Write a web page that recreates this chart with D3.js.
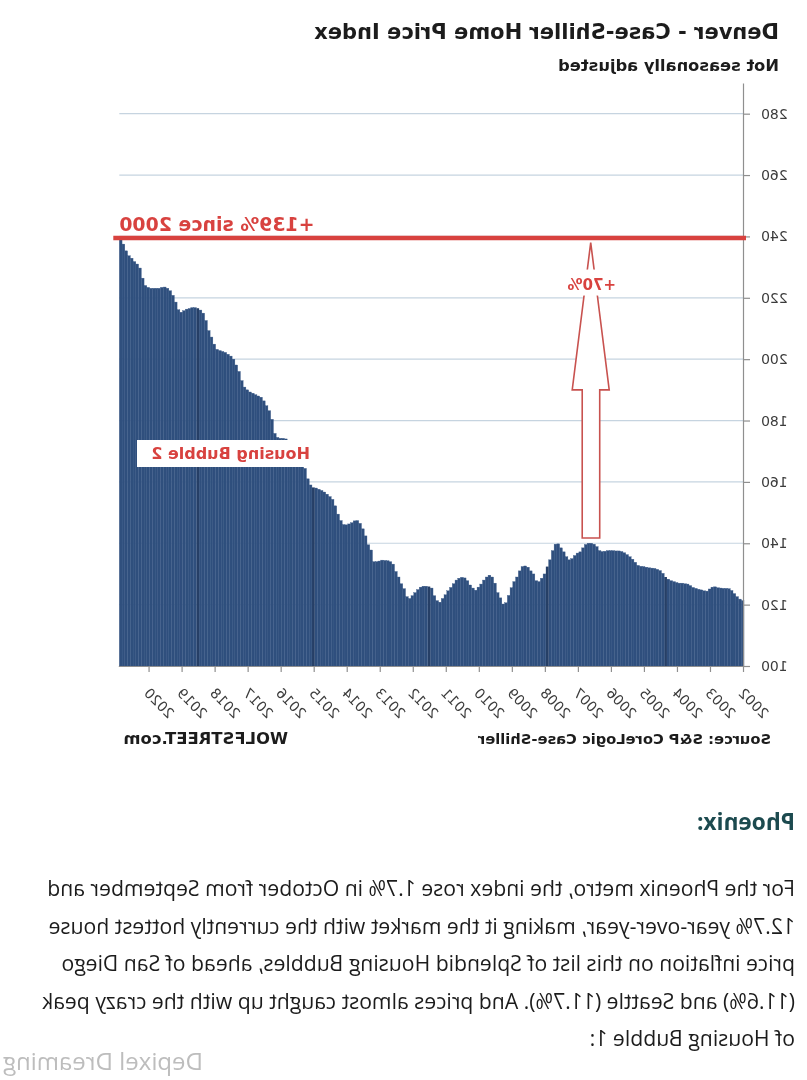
<!DOCTYPE html>
<html>
<head>
<meta charset="utf-8">
<script src="https://cdn.jsdelivr.net/npm/d3@7"></script>
<style>
  body { margin: 0; background: #fff; }
  svg { display: block; filter: blur(0.4px); }
  text { font-family: "DejaVu Sans", sans-serif; }
  .prose { font-family: "Open Sans", sans-serif; }
</style>
</head>
<body>
<svg width="807" height="1080"></svg>
<script>
// monthly index values, one list per stretch, starting Jan 2002
const values2002to2005 = [121.3,121.8,122.6,123.6,124.6,125.2,125.3,125.3,125.4,125.5,125.8,125.7,
  125.1,124.4,124.5,124.8,125.0,125.3,125.6,126.2,126.7,126.8,127.0,127.0,
  127.2,127.5,127.8,128.3,129.0,130.2,131.1,131.5,131.8,131.9,132.0,132.2,
  132.4,132.5,132.8,133.8,134.8,135.6,136.3,136.9,137.3,137.5,137.5,137.6];
const values2006to2009 = [137.6,137.6,137.4,137.3,137.6,138.9,139.7,140.0,140.0,139.6,138.5,137.2,
  136.8,136.0,135.0,134.6,135.6,137.2,138.5,139.8,139.7,137.6,134.6,132.4,
  130.0,128.6,127.5,127.8,130.0,131.0,132.2,132.6,132.4,131.0,129.0,127.5,
  125.5,123.0,120.6,120.2,122.2,123.9,127.0,129.0,129.6,129.0,128.0,126.7];
const values2010to2013 = [125.7,124.7,125.4,126.4,127.8,128.7,128.9,128.6,128.0,126.8,125.6,124.5,
  123.2,122.0,120.8,121.3,122.9,125.4,125.9,126.0,126.0,125.7,124.9,123.9,
  122.9,122.0,122.6,125.2,126.8,129.0,130.8,133.2,134.0,134.3,134.4,134.5,
  134.2,134.0,134.0,137.8,139.5,142.4,144.7,146.5,147.4,147.3,146.7,146.3];
const values2014to2017 = [146.0,146.1,147.4,149.5,152.2,154.3,155.2,156.0,156.7,157.2,157.6,158.0,
  158.2,159.0,161.0,164.4,166.0,167.5,169.0,170.5,172.0,173.5,174.0,174.2,
  174.2,174.5,175.8,180.4,183.2,184.8,186.4,187.6,188.0,188.4,188.9,189.3,
  190.0,190.9,193.0,196.0,198.1,200.0,201.0,201.6,202.2,202.5,202.8,203.2];
const values2018to2020 = [204.9,207.2,209.3,212.6,215.0,216.0,216.6,216.8,216.8,216.5,216.3,215.8,
  215.3,216.1,218.6,220.8,222.3,223.1,223.5,223.4,223.1,223.1,223.1,223.1,
  223.4,224.0,226.4,229.7,231.0,231.8,232.9,233.7,235.3,237.5,239.6];

const values = [...values2002to2005, ...values2006to2009, ...values2010to2013, ...values2014to2017, ...values2018to2020];
const months = d3.range(values.length);
const seamMonths = [28, 71, 114, 156, 198]; // the darker vertical bands in the bars
const yearTicks = d3.range(2002, 2021);
const indexTicks = d3.range(100, 281, 20);

const peakValue = 240;
const arrowMonth = 55.7;
const arrowTip = 238, arrowShoulder = 190, arrowFoot = 141.7;

const bodyLines = [
  "For the Phoenix metro, the index rose 1.7% in October from September and",
  "12.7% year-over-year, making it the market with the currently hottest house",
  "price inflation on this list of Splendid Housing Bubbles, ahead of San Diego",
  "(11.6%) and Seattle (11.7%). And prices almost caught up with the crazy peak",
  "of Housing Bubble 1:"
];

const left = 63, right = 687.7, top_ = 83, bottom = 666;
const red = "#d8423f", grey = "#8f8f8f", ink = "#1c1c1c";

const x = d3.scaleBand().domain(months).range([left, right]);
const xYear = d3.scaleLinear().domain([2002, 2002 + months.length / 12]).range([left, right]);
const y = d3.scaleLinear().domain([100, 290]).range([bottom, top_]);

// the reference is a mirror image, so everything is drawn normally and flipped as one
const svg = d3.select("svg");
const g = svg.append("g").attr("transform", "translate(807,0) scale(-1,1)");

g.append("g")
  .selectAll("line")
  .data(indexTicks)
  .join("line")
    .attr("x1", left).attr("x2", right)
    .attr("y1", d => y(d)).attr("y2", d => y(d))
    .attr("stroke", "#c6d4e0")
    .attr("stroke-width", 1.2);

g.append("g")
  .selectAll("rect")
  .data(months)
  .join("rect")
    .attr("x", d => x(d))
    .attr("y", d => y(values[d]))
    .attr("width", x.bandwidth())
    .attr("height", d => y(100) - y(values[d]))
    .attr("fill", d => seamMonths.includes(d) ? "#263f66" : "#2f4f7d")
    .attr("stroke", d => seamMonths.includes(d) ? "none" : "#3a5a88")
    .attr("stroke-width", 0.35);

const yAxis = g.append("g")
    .attr("transform", `translate(${left},0)`)
    .call(d3.axisLeft(y).tickValues(indexTicks).tickSize(6).tickPadding(11).tickSizeOuter(0));
const xAxis = g.append("g")
    .attr("transform", `translate(0,${bottom})`)
    .call(d3.axisBottom(xYear).tickValues(yearTicks).tickFormat(d3.format("d")).tickSize(6).tickSizeOuter(0));
xAxis.selectAll("text")
    .attr("y", 0)
    .attr("dy", 0)
    .attr("text-anchor", "end")
    .attr("transform", "translate(6,28) rotate(-45)");
[yAxis, xAxis].forEach(a => {
  a.selectAll("path, line").attr("stroke", grey).attr("stroke-width", 1.2);
  a.selectAll("text").attr("fill", "#3c3c3c").style("font-size", "14px");
});

// arrow from the Housing Bubble 1 peak up to the current level
const ax = x(0) + x.bandwidth() * arrowMonth;
const arrowPath = d3.line()([
  [ax, y(arrowTip)], [ax + 18.5, y(arrowShoulder)], [ax + 8.5, y(arrowShoulder)],
  [ax + 8.5, y(arrowFoot)], [ax - 9, y(arrowFoot)], [ax - 9, y(arrowShoulder)],
  [ax - 18.5, y(arrowShoulder)]
]) + "Z";
g.append("path").attr("d", arrowPath).attr("fill", "#fff").attr("stroke", "#c8524f").attr("stroke-width", 1.6);

g.append("rect")
    .attr("x", ax - 32).attr("y", y(arrowTip) + 27).attr("width", 62).attr("height", 26)
    .attr("fill", "#fff");
g.append("text").text("+70%")
    .attr("x", ax - 1).attr("y", y(arrowTip) + 47)
    .attr("text-anchor", "middle")
    .attr("fill", red).attr("font-weight", "bold").attr("font-size", 15);

g.append("line")
    .attr("x1", left - 2).attr("x2", right + 6)
    .attr("y1", y(peakValue) + 1.5).attr("y2", y(peakValue) + 1.5)
    .attr("stroke", red).attr("stroke-width", 4.5);
g.append("text").text("+139% since 2000")
    .attr("x", right).attr("y", 231)
    .attr("text-anchor", "end")
    .attr("fill", red).attr("font-weight", "bold").attr("font-size", 18.9);

g.append("rect")
    .attr("x", 495).attr("y", 440).attr("width", 175).attr("height", 27)
    .attr("fill", "#fff");
g.append("text").text("Housing Bubble 2")
    .attr("x", 497).attr("y", 459)
    .attr("fill", red).attr("font-weight", "bold").attr("font-size", 16);

// titles and footers
g.append("text").text("Denver - Case-Shiller Home Price Index")
    .attr("x", 28).attr("y", 39)
    .attr("fill", ink).attr("font-weight", "bold").attr("font-size", 21);
g.append("text").text("Not seasonally adjusted")
    .attr("x", 28).attr("y", 71)
    .attr("fill", ink).attr("font-weight", "bold").attr("font-size", 16.3);
g.append("text").text("Source: S&P CoreLogic Case-Shiller")
    .attr("x", 36).attr("y", 744)
    .attr("fill", ink).attr("font-weight", "bold").attr("font-size", 14.7);
g.append("text").text("WOLFSTREET.com")
    .attr("x", 519).attr("y", 744)
    .attr("fill", ink).attr("font-weight", "bold").attr("font-size", 16.4);

// article text under the chart
g.append("text").text("Phoenix:").attr("class", "prose")
    .attr("x", 12).attr("y", 830)
    .attr("fill", "#1c4a4f").attr("font-weight", "bold").attr("font-size", 22.7);
g.append("g")
  .selectAll("text")
  .data(bodyLines)
  .join("text")
    .attr("class", "prose")
    .text(d => d)
    .attr("x", 12)
    .attr("y", (d, i) => 896 + i * 37.5)
    .attr("fill", ink)
    .attr("font-size", 21.2);
g.append("text").text("Depixel Dreaming").attr("class", "prose")
    .attr("x", 604).attr("y", 1070)
    .attr("fill", "#bdbdbd").attr("font-size", 24);
</script>
</body>
</html>
